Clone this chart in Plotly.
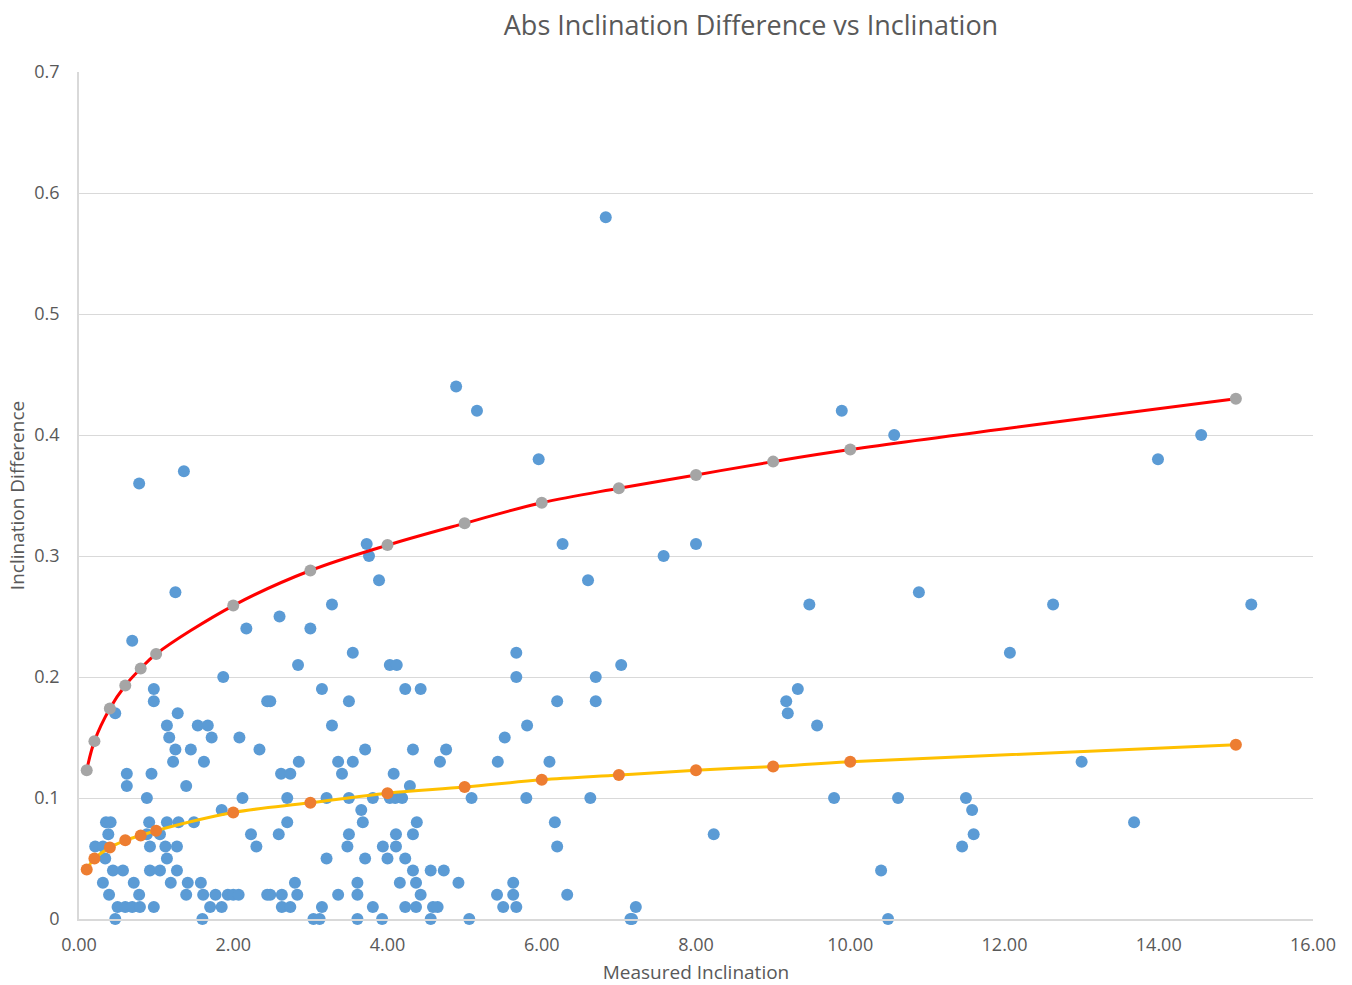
import plotly.graph_objects as go

# Measured data (blue)
blue_x = [
    0.69, 2.17, 1.87, 0.97, 0.97, 0.47, 1.28, 1.14, 1.54, 1.67, 1.17, 1.72, 2.08, 2.44, 1.25, 1.45, 2.34,
    1.22, 1.62, 0.62, 0.62, 0.94, 1.39, 0.88, 2.12, 1.85, 0.35, 0.41, 0.91, 1.14, 1.29, 1.49, 0.38, 0.88,
    1.05, 0.21, 0.31, 0.34, 0.92, 1.12, 1.27, 1.14, 1.27, 0.44, 0.57, 0.92, 1.05, 0.31, 0.71, 1.19, 1.41,
    1.58, 0.39, 0.78, 1.39, 1.61, 1.77, 1.93, 2.00, 2.07, 2.44, 0.50, 0.60, 0.69, 0.79, 0.97, 1.70, 1.85,
    0.47, 1.60,
    3.00, 3.55, 2.84, 4.03, 4.12, 3.15, 4.23, 4.43, 2.48, 3.50, 3.28, 3.71, 4.33, 4.76, 2.85, 3.36, 3.55,
    4.68, 2.62, 2.74, 3.41, 4.08, 4.29, 2.70, 3.21, 3.50, 3.81, 4.03, 4.10, 4.19, 3.66, 2.70, 3.68, 4.38,
    2.23, 2.30, 2.59, 3.50, 4.11, 4.33, 3.48, 3.94, 4.11, 3.21, 3.71, 4.00, 4.23, 4.33, 4.56, 4.73, 2.80,
    3.61, 4.16, 4.37, 2.48, 2.63, 2.83, 3.36, 3.61, 4.43, 2.63, 2.74, 3.15, 3.81, 4.23, 4.37, 4.59, 4.65,
    3.04, 3.12, 3.61, 3.93, 4.56,
    5.67, 5.67, 6.70, 7.03, 6.20, 6.70, 5.81, 5.52, 5.43, 6.10, 5.09, 5.80, 6.63, 6.17, 6.20, 4.92, 5.42,
    5.63, 5.63, 6.33, 5.50, 5.67, 5.06, 7.15,
    9.17, 9.19, 9.32, 9.57, 9.79, 10.62, 11.50, 11.58, 11.60, 11.45, 8.23, 10.40, 7.22, 7.17, 10.49,
    12.63, 15.20, 12.07, 13.00, 13.68,
    10.57, 14.55, 13.99, 10.89,
    0.78, 1.36, 4.89, 5.16, 5.96, 3.73, 3.76, 6.27, 3.89, 1.25, 3.28, 2.60,
    6.83, 9.89, 6.60, 7.58, 8.00, 9.47,
]
blue_y = [
    0.23, 0.24, 0.20, 0.19, 0.18, 0.17, 0.17, 0.16, 0.16, 0.16, 0.15, 0.15, 0.15, 0.18, 0.14, 0.14, 0.14,
    0.13, 0.13, 0.12, 0.11, 0.12, 0.11, 0.10, 0.10, 0.09, 0.08, 0.08, 0.08, 0.08, 0.08, 0.08, 0.07, 0.07,
    0.07, 0.06, 0.06, 0.05, 0.06, 0.06, 0.06, 0.05, 0.04, 0.04, 0.04, 0.04, 0.04, 0.03, 0.03, 0.03, 0.03,
    0.03, 0.02, 0.02, 0.02, 0.02, 0.02, 0.02, 0.02, 0.02, 0.02, 0.01, 0.01, 0.01, 0.01, 0.01, 0.01, 0.01,
    0.00, 0.00,
    0.24, 0.22, 0.21, 0.21, 0.21, 0.19, 0.19, 0.19, 0.18, 0.18, 0.16, 0.14, 0.14, 0.14, 0.13, 0.13, 0.13,
    0.13, 0.12, 0.12, 0.12, 0.12, 0.11, 0.10, 0.10, 0.10, 0.10, 0.10, 0.10, 0.10, 0.09, 0.08, 0.08, 0.08,
    0.07, 0.06, 0.07, 0.07, 0.07, 0.07, 0.06, 0.06, 0.06, 0.05, 0.05, 0.05, 0.05, 0.04, 0.04, 0.04, 0.03,
    0.03, 0.03, 0.03, 0.02, 0.02, 0.02, 0.02, 0.02, 0.02, 0.01, 0.01, 0.01, 0.01, 0.01, 0.01, 0.01, 0.01,
    0.00, 0.00, 0.00, 0.00, 0.00,
    0.22, 0.20, 0.20, 0.21, 0.18, 0.18, 0.16, 0.15, 0.13, 0.13, 0.10, 0.10, 0.10, 0.08, 0.06, 0.03, 0.02,
    0.03, 0.02, 0.02, 0.01, 0.01, 0.00, 0.00,
    0.18, 0.17, 0.19, 0.16, 0.10, 0.10, 0.10, 0.09, 0.07, 0.06, 0.07, 0.04, 0.01, 0.00, 0.00,
    0.26, 0.26, 0.22, 0.13, 0.08,
    0.40, 0.40, 0.38, 0.27,
    0.36, 0.37, 0.44, 0.42, 0.38, 0.31, 0.30, 0.31, 0.28, 0.27, 0.26, 0.25,
    0.58, 0.42, 0.28, 0.30, 0.31, 0.26,
]

# Upper envelope series (gray) and lower series (orange)
ref_x = [0.1, 0.2, 0.4, 0.6, 0.8, 1.0, 2, 3, 4, 5, 6, 7, 8, 9, 10, 15]
gray_y = [0.123, 0.147, 0.174, 0.193, 0.207, 0.219, 0.259, 0.288, 0.309, 0.327, 0.344, 0.356, 0.367, 0.378, 0.388, 0.430]
orange_y = [0.041, 0.050, 0.059, 0.065, 0.069, 0.073, 0.088, 0.096, 0.104, 0.109, 0.115, 0.119, 0.123, 0.126, 0.130, 0.144]

x_ticks = [0, 2, 4, 6, 8, 10, 12, 14, 16]
x_tick_labels = ["0.00", "2.00", "4.00", "6.00", "8.00", "10.00", "12.00", "14.00", "16.00"]
y_ticks = [0, 0.1, 0.2, 0.3, 0.4, 0.5, 0.6, 0.7]
y_tick_labels = ["0", "0.1", "0.2", "0.3", "0.4", "0.5", "0.6", "0.7"]

FONT = "'Open Sans', 'Noto Sans', Arial, sans-serif"
TXT = "#595959"

fig = go.Figure()
fig.add_trace(go.Scatter(x=blue_x, y=blue_y, mode="markers",
                         marker=dict(size=12, color="#5b9bd5"), cliponaxis=False, showlegend=False))
fig.add_trace(go.Scatter(x=ref_x, y=gray_y, mode="lines", line=dict(color="#ff0000", width=3, shape="spline"),
                         showlegend=False))
fig.add_trace(go.Scatter(x=ref_x, y=gray_y, mode="markers", marker=dict(size=12, color="#a5a5a5"),
                         cliponaxis=False, showlegend=False))
fig.add_trace(go.Scatter(x=ref_x, y=orange_y, mode="lines", line=dict(color="#ffc000", width=3, shape="spline"),
                         showlegend=False))
fig.add_trace(go.Scatter(x=ref_x, y=orange_y, mode="markers", marker=dict(size=12, color="#ed7d31"),
                         cliponaxis=False, showlegend=False))

fig.update_layout(
    width=1352, height=985,
    margin=dict(l=79, r=39, t=72, b=66),
    paper_bgcolor="white", plot_bgcolor="white",
    font=dict(family=FONT, color=TXT, size=16),
    title=dict(text="Abs Inclination Difference vs Inclination", x=751 / 1352, xanchor="center",
               y=1 - 26 / 985, yanchor="middle", font=dict(size=27, color=TXT, family=FONT)),
    xaxis=dict(range=[0, 16], tickvals=x_ticks, ticktext=x_tick_labels, showgrid=False, zeroline=False,
               showline=True, linecolor="#d9d9d9", linewidth=1.5, ticks="", ticklabelstandoff=9,
               tickfont=dict(size=18, color=TXT), automargin=False,
               title=dict(text="Measured Inclination", font=dict(size=19, color=TXT), standoff=20)),
    yaxis=dict(range=[0, 0.7], tickvals=y_ticks, ticktext=y_tick_labels, showgrid=True, gridcolor="#d9d9d9",
               gridwidth=1, zeroline=False, showline=True, linecolor="#d9d9d9", linewidth=1.5, ticks="",
               ticklabelstandoff=14, tickfont=dict(size=18, color=TXT), automargin=False,
               title=dict(text="Inclination Difference", font=dict(size=19, color=TXT), standoff=5)),
)

fig.write_html("out.html", config={"displayModeBar": False},
               post_script="document.body.style.margin='0';")
